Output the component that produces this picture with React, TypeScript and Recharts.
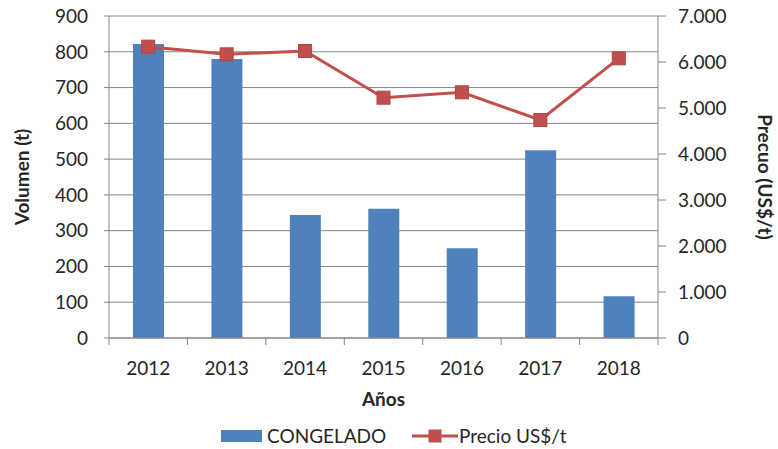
import { ComposedChart, Bar, Line, XAxis, YAxis, CartesianGrid, Legend } from 'recharts'

const years = ['2012', '2013', '2014', '2015', '2016', '2017', '2018']
const congelado = [822, 780, 344, 361, 251, 525, 117]
const precio = [6333, 6167, 6239, 5224, 5341, 4739, 6080]
const volumeTicks = [0, 100, 200, 300, 400, 500, 600, 700, 800, 900]
const priceTicks = [0, 1000, 2000, 3000, 4000, 5000, 6000, 7000]

const data = years.map((year, i) => ({ year, congelado: congelado[i], precio: precio[i] }))

const BLUE = '#4F81BD'
const RED = '#C0504D'
const AXIS = '#868686'
const TEXT = '#262626'
const FONT = 'Lato, "Open Sans", sans-serif'

const fmtPrice = (v: number) => (v === 0 ? '0' : v.toLocaleString('de-DE'))

function YearTick(props: any) {
  const { x, y, payload, index, width } = props
  const band = (width || 549) / years.length
  return (
    <g>
      <line x1={x - band / 2} x2={x - band / 2} y1={y} y2={y + 7} stroke={AXIS} />
      {index === years.length - 1 && (
        <line x1={x + band / 2} x2={x + band / 2} y1={y} y2={y + 7} stroke={AXIS} />
      )}
      <text x={x} y={y + 37} textAnchor="middle" fill={TEXT} fontSize={19} fontFamily={FONT}>
        {payload.value}
      </text>
    </g>
  )
}

function PriceDot(props: any) {
  const { cx, cy } = props
  if (cx == null || cy == null) return null
  return <rect x={cx - 6.5} y={cy - 6.5} width={13} height={13} fill={RED} stroke="#B5433F" strokeWidth={1} />
}

function LegendBox() {
  return (
    <div style={{ position: 'relative', width: 778, height: 26, fontFamily: FONT, fontSize: 19, color: TEXT }}>
      <div style={{ position: 'absolute', left: 221, top: 7, width: 41, height: 12, background: BLUE }} />
      <span style={{ position: 'absolute', left: 267, top: 0, lineHeight: '26px' }}>CONGELADO</span>
      <svg style={{ position: 'absolute', left: 412, top: 0 }} width={46} height={26}>
        <line x1={0} x2={46} y1={13} y2={13} stroke={RED} strokeWidth={3} />
        <rect x={16.5} y={6.5} width={13} height={13} fill={RED} />
      </svg>
      <span style={{ position: 'absolute', left: 459, top: 0, lineHeight: '26px' }}>Precio US$/t</span>
    </div>
  )
}

export default function App() {
  return (
    <div style={{ position: 'absolute', left: 0, top: 0, width: 778, height: 449, background: '#fff', fontFamily: FONT }}>
      <ComposedChart width={778} height={449} data={data} margin={{ top: 16, right: 0, bottom: 0, left: 0 }}>
        <CartesianGrid yAxisId="left" vertical={false} stroke={AXIS} strokeWidth={1} />
        <XAxis
          dataKey="year"
          height={85}
          stroke={AXIS}
          tickLine={false}
          tickSize={0}
          tickMargin={0}
          tick={<YearTick />}
          interval={0}
          label={{ value: 'Años', position: 'insideTop', offset: 55, fill: TEXT, fontSize: 19, fontWeight: 700, fontFamily: FONT }}
        />
        <YAxis
          yAxisId="left"
          width={109}
          domain={[0, 900]}
          ticks={volumeTicks}
          interval={0}
          stroke={AXIS}
          tickSize={5}
          tickMargin={16}
          tick={{ fill: TEXT, fontSize: 19, fontFamily: FONT }}
          label={{
            content: (p: any) => {
              const vb = p.viewBox
              const cx = vb.x + 21
              const cy = vb.y + vb.height / 2
              return (
                <text x={cx} y={cy} transform={`rotate(-90 ${cx} ${cy})`} textAnchor="middle" dominantBaseline="central" fill={TEXT} fontSize={19} fontWeight={700} fontFamily={FONT}>
                  Volumen (t)
                </text>
              )
            },
          }}
        />
        <YAxis
          yAxisId="right"
          orientation="right"
          width={120}
          domain={[0, 7000]}
          ticks={priceTicks}
          interval={0}
          stroke={AXIS}
          tickSize={8}
          tickMargin={12}
          tickFormatter={fmtPrice}
          tick={{ fill: TEXT, fontSize: 19, fontFamily: FONT, textAnchor: 'start' }}
          label={{
            content: (p: any) => {
              const vb = p.viewBox
              const cx = vb.x + 107
              const cy = vb.y + vb.height / 2
              return (
                <text x={cx} y={cy} transform={`rotate(90 ${cx} ${cy})`} textAnchor="middle" dominantBaseline="central" fill={TEXT} fontSize={19} fontWeight={700} fontFamily={FONT}>
                  Precuo (US$/t)
                </text>
              )
            },
          }}
        />
        <Legend verticalAlign="bottom" height={26} content={() => <LegendBox />} />
        <Bar yAxisId="left" dataKey="congelado" name="CONGELADO" fill={BLUE} barSize={31} isAnimationActive={false} />
        <Line
          yAxisId="right"
          dataKey="precio"
          name="Precio US$/t"
          stroke={RED}
          strokeWidth={3}
          dot={<PriceDot />}
          activeDot={false}
          isAnimationActive={false}
        />
      </ComposedChart>
    </div>
  )
}
